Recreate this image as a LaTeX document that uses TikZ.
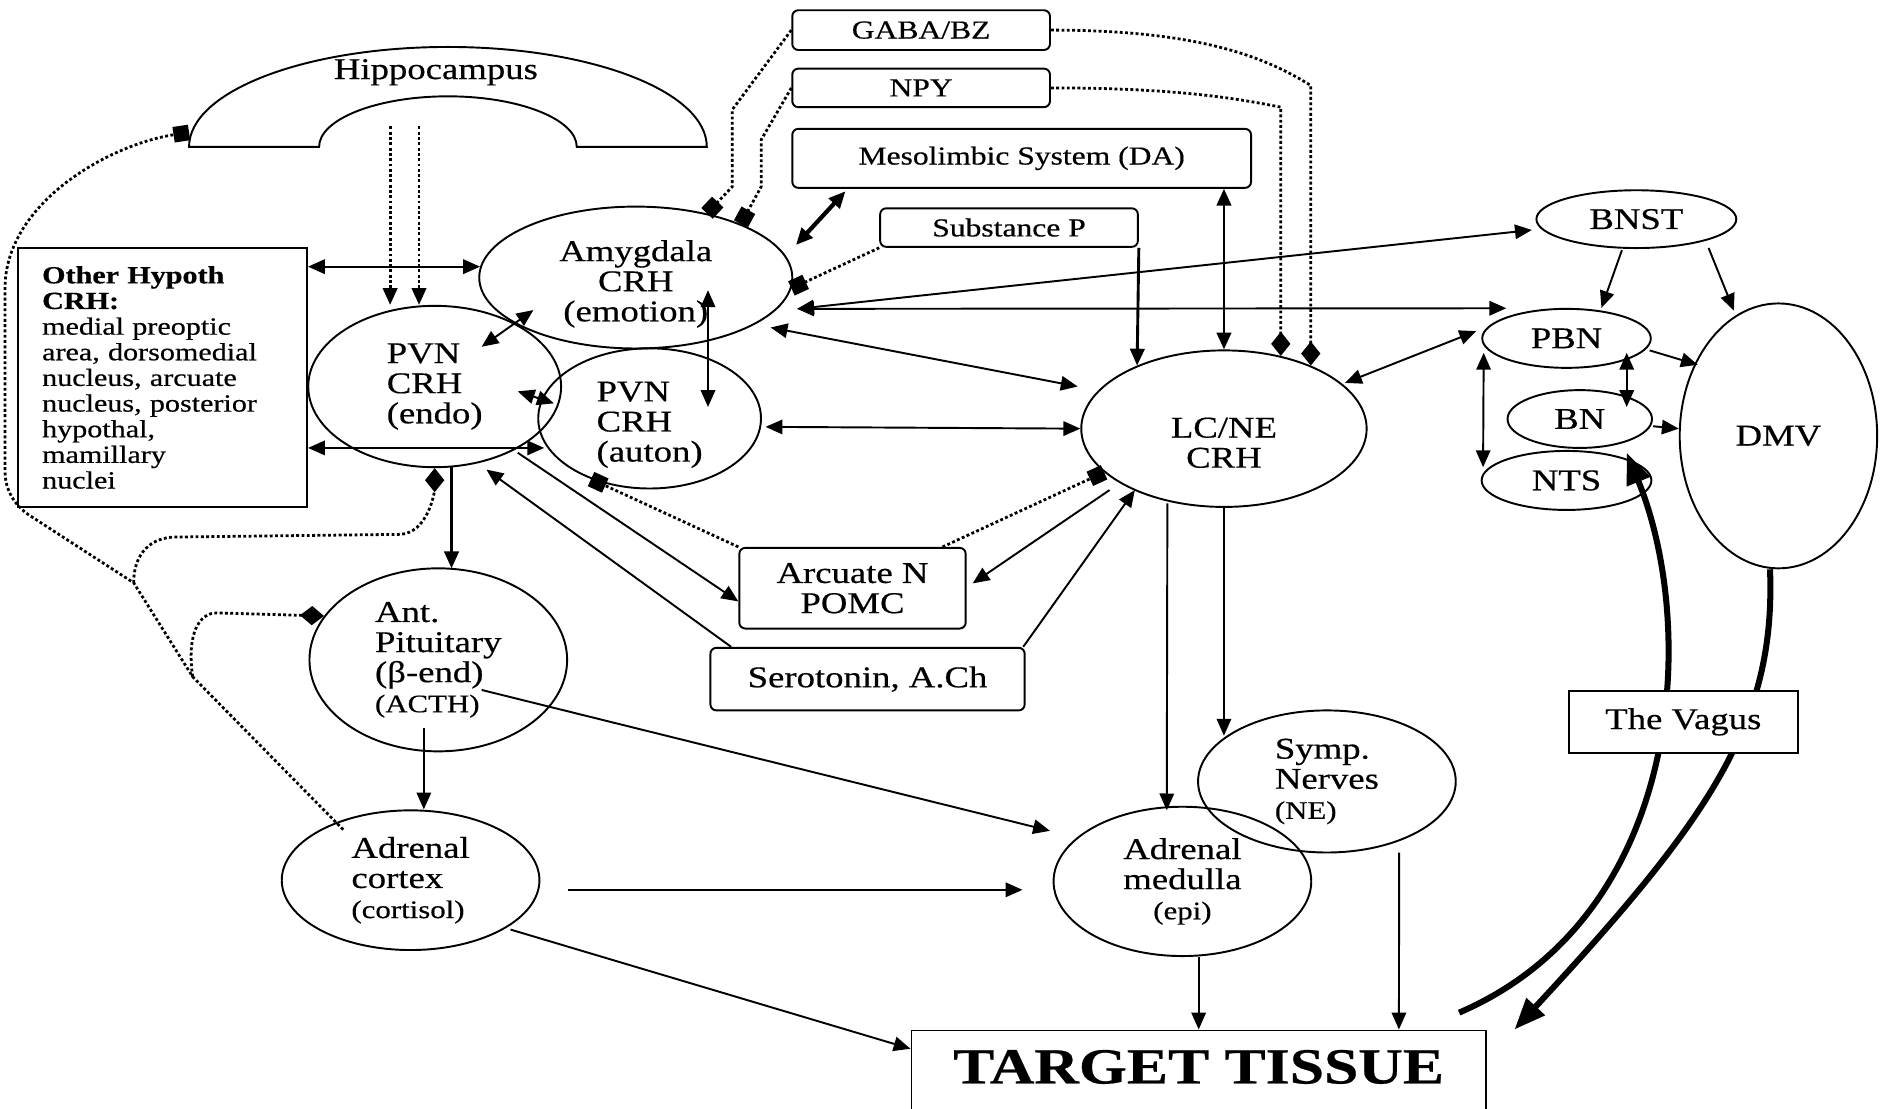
\documentclass[tikz,border=0pt]{standalone}
\usepackage{fontspec}
\setmainfont{Liberation Serif}[FakeStretch=1.22,FakeBold=0.5]
\usetikzlibrary{calc,positioning,shapes.geometric,arrows.meta}
\newcommand{\lblsmall}[1]{{\fontsize{21}{21}\selectfont #1}}

\begin{document}
\begin{tikzpicture}[x=1pt, y=-1pt
        , every node/.style={font=\fontsize{25}{25}\selectfont}
        , ell/.style={draw, ellipse, line width=1.6pt, inner sep=0pt, align=center}
        , rbox/.style={draw, rounded corners=5pt, line width=1.6pt, inner sep=0pt, font=\fontsize{21.5}{22}\selectfont}
        , >={Triangle[length=14pt,width=12pt]}
        , link/.style={line width=1.6pt, ->}
        , dlink/.style={line width=1.6pt, <->}
        , dotline/.style={line width=2.3pt, dash pattern=on 2.4pt off 2pt}
        , inhsq/.style={dotline, -{Square[length=13pt,width=13pt]}}
        , inhdm/.style={dotline, -{Diamond[length=20pt,width=16pt]}}
        , vagline/.style={line width=5pt, -{Triangle[length=26pt,width=20pt]}}
        ]
\useasboundingbox (0,0) rectangle (1568,921);

% hippocampus
\draw[line width=1.6pt] (157,122) .. controls (157,76) and (253,39) .. (372,39) .. controls (491,39) and (587,76) .. (587,122) -- (479,122) .. controls (479,99) and (431,80) .. (372,80) .. controls (313,80) and (265,99) .. (265,122) -- cycle;
\node (hippo) at (362,60) {Hippocampus};
\coordinate (hipL) at (324,105);
\coordinate (hipR) at (348,105);
\coordinate (hipsq) at (157,110);

\node (othhyp) [draw, line width=1.6pt, minimum width=240pt, minimum height=215pt, text width=200pt, inner sep=0pt, align=left, font=\fontsize{20.5}{21.3}\selectfont] at (135,313.5) {\textbf{Other Hypoth}\\ \textbf{CRH:}\\ medial preoptic\\ area, dorsomedial\\ nucleus, arcuate\\ nucleus, posterior\\ hypothal,\\ mamillary\\ nuclei};

\node (amyg) [ell, minimum width=260pt, minimum height=115pt] at (528,230.5) {\rule{0pt}{28pt}Amygdala\\CRH\\(emotion)};
\node (pvnendo) [ell, minimum width=210pt, minimum height=134pt, align=left] at (361,321) {PVN\\CRH\\(endo)};
\node (pvnauton) [ell, minimum width=185pt, minimum height=113pt, align=left] at (539.5,347.5) {\rule{0pt}{27pt}PVN\\CRH\\(auton)};
\node (lcne) [ell, minimum width=237pt, minimum height=130pt] at (1016.5,356) {\rule{0pt}{40pt}LC/NE\\CRH};

\node (gaba) [rbox, minimum width=214pt, minimum height=33pt] at (765,25) {GABA/BZ};
\node (npy) [rbox, minimum width=214pt, minimum height=32pt] at (765,73) {NPY};
\node (meso) [rbox, minimum width=381pt, minimum height=49pt] at (848.5,131.5) {Mesolimbic System (DA)};
\node (subp) [rbox, minimum width=214pt, minimum height=32pt] at (838,189) {Substance P};

\node (bnst) [ell, minimum width=166pt, minimum height=48pt] at (1359,182) {BNST};
\node (pbn) [ell, minimum width=140pt, minimum height=49pt] at (1301,281) {PBN};
\node (bn) [ell, minimum width=120pt, minimum height=48pt] at (1312,348) {BN};
\node (nts) [ell, minimum width=141pt, minimum height=49pt] at (1301,399) {NTS};
\node (dmv) [ell, minimum width=164pt, minimum height=220pt] at (1477,362) {DMV};

\node (arcN) [rbox, minimum width=188pt, minimum height=67pt, align=center, font=\fontsize{25}{25}\selectfont] at (708,488.5) {Arcuate N\\POMC};
\node (sero) [rbox, minimum width=261pt, minimum height=52pt, font=\fontsize{25}{25}\selectfont] at (720.5,564) {Serotonin, A.Ch};

\node (pit) [ell, minimum width=214pt, minimum height=152pt, align=left] at (364,548) {Ant.\\Pituitary\\(β-end)\\\lblsmall{(ACTH)}};
\node (cortex) [ell, minimum width=214pt, minimum height=116pt, align=left] at (341,731) {Adrenal\\cortex\\\lblsmall{(cortisol)}};
\node (medulla) [ell, minimum width=214pt, minimum height=124pt] at (982,732) {Adrenal\\medulla\\\lblsmall{(epi)}};
\node (symp) [ell, minimum width=214pt, minimum height=118pt, align=left] at (1102,649) {Symp.\\Nerves\\\lblsmall{(NE)}};

\node (target) [draw, line width=1.6pt, anchor=north, minimum width=477pt, text height=28pt, text depth=70pt, inner ysep=16pt, font=\bfseries\fontsize{42}{42}\selectfont] at (995.5,855) {TARGET TISSUE};

% hypothalamus and limbic links
\draw[dotline, ->] (hipL) -- (hipL |- pvnendo.north);
\draw[dotline, ->] (hipR) -- (hipR |- pvnendo.north);
\draw[dlink] (othhyp.east |- amyg.176) -- (amyg.176);
\draw[dlink] ($(pvnendo)+(39,-33)$) -- ($(amyg)+(-85,27)$);
\draw[dlink] ($(pvnendo)+(69,4)$) -- ($(pvnauton)+(-79.5,-12.5)$);
\draw[dlink] ($(amyg)+(60,10.5)$) -- ($(pvnauton)+(48.5,-9.5)$);
\draw[dlink] ($(othhyp.east)+(0,58.5)$) -- ($(pvnauton)+(-87.5,24.5)$);
\draw[link, line width=2.4pt] ($(pvnendo)+(14,67)$) -- ($(pit)+(11,-76)$);
\draw[link] ($(sero.north west)+(18,0)$) -- ($(pvnendo)+(43,69)$);
\draw[link] ($(pvnendo)+(69,55)$) -- ($(arcN.west)+(0,11)$);
\draw[inhsq] (arcN.north west) -- (pvnauton.226);
\draw[inhsq] ($(arcN.north east)+(-20,0)$) -- (lcne.200);
\draw[link] ($(lcne)+(-95,51)$) -- ($(arcN.east)+(5,-4)$);
\draw[link] ($(sero.north east)+(-2,0)$) -- ($(lcne)+(-74,51)$);
\draw[dlink] ($(pvnauton.east)+(3,7)$) -- (lcne.west);
\draw[dlink] ($(amyg)+(112,41.5)$) -- ($(lcne)+(-121.5,-35)$);
\draw[dlink] ($(amyg)+(134,26)$) -- ($(bnst.west)+(-3,9)$);
\draw[dlink] ($(amyg)+(134,26)$) -- ($(pbn)+(-50,-25)$);
\draw[dlink, line width=3.5pt] ($(meso.south west)+(45,2)$) -- ($(amyg)+(133,-27)$);
\draw[dlink, line width=2.4pt] (lcne.north |- meso.south) -- (lcne.north);
\draw[inhsq] (gaba.west) -- ++(-49,66) -- ++(0,64) -- (amyg.42);
\draw[inhsq] (npy.west) -- ++(-25,43) -- ++(0,39) -- (amyg.27);
\draw[inhdm] (gaba.east) .. controls +(120,0) and +(-40,-25) .. ($(gaba.east -| lcne.36)+(0,46)$) -- (lcne.36);
\draw[inhdm] (npy.east) .. controls +(100,0) and +(-40,-8) .. ($(npy.east -| lcne.52)+(0,16)$) -- (lcne.52);
\draw[inhsq] (subp.south west) -- (amyg.-4);
\draw[link, line width=2.4pt] (subp.south east) -- (lcne.144);

% brainstem
\draw[link] ($(bnst.south)+(-12,1)$) -- ($(pbn.north)+(29,0)$);
\draw[link] ($(bnst)+(60,24)$) -- ($(dmv)+(-37,-104)$);
\draw[link] ($(pbn)+(69,10)$) -- ($(dmv)+(-67,-59)$);
\draw[dlink] ($(pbn)+(50,12)$) -- ($(bn)+(39,-10)$);
\draw[link] ($(bn.east)+(0,6)$) -- ($(dmv.west)+(0,-6)$);
\draw[dlink] ($(pbn.west)+(2,12)$) -- ($(nts.west)+(2,-11)$);
\draw[dlink] ($(lcne)+(100.5,-38)$) -- ($(pbn)+(-75,-6)$);

% periphery
\draw[link] ($(lcne)+(-47,62)$) -- ($(medulla)+(-13,-59)$);
\draw[link] (lcne.south) -- ($(symp)+(-85.5,-38)$);
\draw[link] ($(pit)+(-12,57)$) -- ($(cortex.north)+(11,0)$);
\draw[link] ($(pit)+(36,25)$) -- ($(medulla)+(-110,-42)$);
\draw[link] ($(cortex.east)+(23,8)$) -- ($(medulla.west)+(-25,7)$);
\draw[link] ($(cortex)+(83,41)$) -- ($(target.north west)+(0,16)$);
\draw[link] (target.north |- medulla.south) -- (target.north);
\draw[link] ($(symp)+(60,59)$) -- ($(target.north east)+(-73,0)$);

% cortisol feedback
\coordinate (jpvn) at (111,484);
\coordinate (jpit) at (160,562);
\draw[inhsq] ($(cortex)+(-56,-42)$) -- (jpit) -- (jpvn) -- ($(othhyp.south west)+(10,6)$) .. controls +(-12,-8) and +(0,15) .. ($(othhyp.south west)+(-10,-30)$) -- ($(othhyp.north west)+(-10,34)$) .. controls +(0,-70) and +(-67,10) .. (hipsq);
\draw[inhdm] (jpvn) .. controls +(0,-25) and +(-20,0) .. ++(35,-38) -- ($(pvnendo.south)+(-30,55)$) .. controls +(25,0) and +(0,18) .. (pvnendo.south);
\draw[inhdm] (jpit) .. controls +(-5,-35) and +(-15,0) .. ++(20,-53) -- (pit.159);

% vagus
\draw[vagline] ($(target.north east)+(-23,-14)$) .. controls +(188,-81) and +(59,144) .. ($(nts)+(50,-23)$);
\draw[vagline] ($(dmv.south)+(-7,0)$) .. controls +(5,128) and +(162,-175) .. ($(target.north east)+(23,0)$);
\node (vagus) [draw, fill=white, line width=1.6pt, minimum width=190pt, minimum height=51pt] at (1398,599.5) {The Vagus};

\end{tikzpicture}
\end{document}
